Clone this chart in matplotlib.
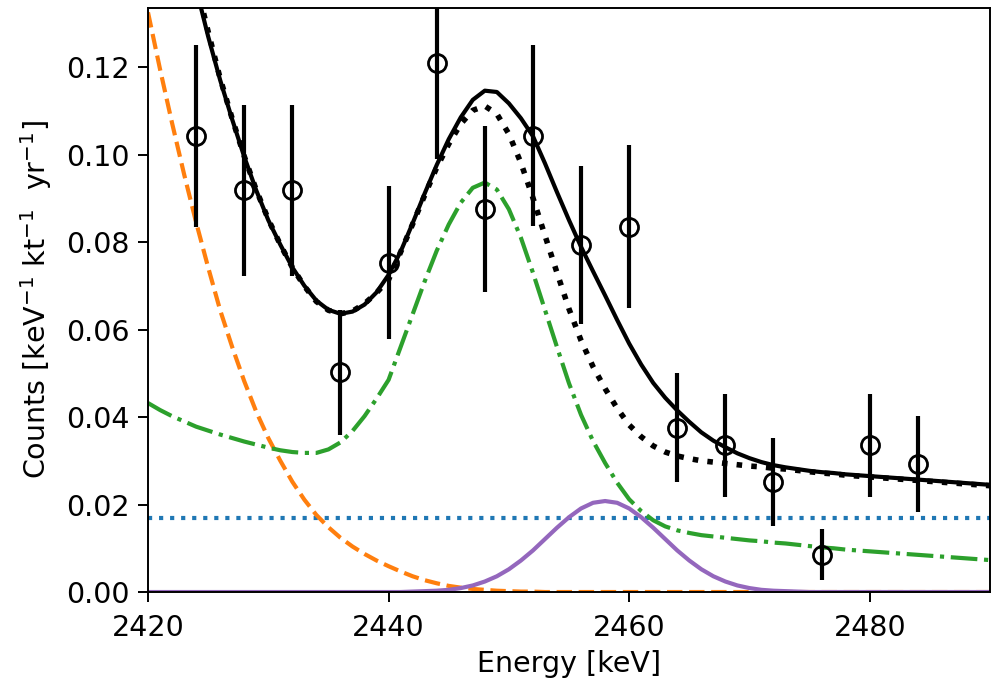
import numpy as np
import matplotlib
matplotlib.use('Agg')
import matplotlib.pyplot as plt

# measured spectrum (bin centres, rate, 1 sigma)
energy = [2424, 2428, 2432, 2436, 2440, 2444, 2448, 2452,
          2456, 2460, 2464, 2468, 2472, 2476, 2480, 2484]
counts = [0.1042, 0.0918, 0.0918, 0.0502, 0.0753, 0.1210, 0.0875, 0.1043,
          0.0793, 0.0835, 0.0376, 0.0335, 0.0252, 0.0085, 0.0335, 0.0293]
errors = [0.0208, 0.0195, 0.0195, 0.0143, 0.0175, 0.0220, 0.0190, 0.0207,
          0.0180, 0.0186, 0.0125, 0.0117, 0.0101, 0.0058, 0.0117, 0.0110]

# fit curves, 1 keV steps from 2420 to 2490
e_grid = np.arange(2420, 2491)

flat_bkg = [0.017] * 71

low_tail = [0.1325, 0.1195, 0.1072, 0.0955, 0.0845, 0.0742, 0.0644, 0.0560,
            0.0482, 0.0412, 0.0352, 0.0300, 0.0252, 0.0211, 0.0176, 0.0148,
            0.0124, 0.0104, 0.0087, 0.0072, 0.0059, 0.0047, 0.0036, 0.0027,
            0.0020, 0.0014, 0.0010, 0.0007, 0.0005, 0.0003, 0.0002, 0.0001,
            0.0001, 0, 0, 0, 0, 0, 0, 0,
            0, 0, 0, 0, 0, 0, 0, 0,
            0, 0, 0, 0, 0, 0, 0, 0,
            0, 0, 0, 0, 0, 0, 0, 0,
            0, 0, 0, 0, 0, 0, 0]

main_peak = [0.0432, 0.0416, 0.0402, 0.0390, 0.0378, 0.0369, 0.0360, 0.0352,
             0.0344, 0.0337, 0.0330, 0.0324, 0.0320, 0.0318, 0.0318, 0.0326,
             0.0342, 0.0368, 0.0402, 0.0442, 0.0485, 0.0560, 0.0635, 0.0710,
             0.0780, 0.0840, 0.0890, 0.0924, 0.0936, 0.0920, 0.0875, 0.0810,
             0.0730, 0.0645, 0.0560, 0.0477, 0.0405, 0.0345, 0.0295, 0.0250,
             0.0212, 0.0185, 0.0164, 0.0150, 0.0141, 0.0135, 0.0130, 0.0127,
             0.0124, 0.0121, 0.0118, 0.0116, 0.0113, 0.0111, 0.0108, 0.0105,
             0.0102, 0.0100, 0.0097, 0.0095, 0.0093, 0.0091, 0.0089, 0.0087,
             0.0085, 0.0083, 0.0081, 0.0079, 0.0077, 0.0075, 0.0073]

signal = [0, 0, 0, 0, 0, 0, 0, 0,
          0, 0, 0, 0, 0, 0, 0, 0,
          0, 0, 0, 0, 0, 0, 0.0001, 0.0002,
          0.0003, 0.0005, 0.0009, 0.0015, 0.0024, 0.0036, 0.0052, 0.0072,
          0.0095, 0.0121, 0.0147, 0.0171, 0.0191, 0.0204, 0.0208, 0.0204,
          0.0191, 0.0171, 0.0147, 0.0121, 0.0095, 0.0072, 0.0052, 0.0036,
          0.0024, 0.0015, 0.0009, 0.0005, 0.0003, 0.0002, 0.0001, 0,
          0, 0, 0, 0, 0, 0, 0, 0,
          0, 0, 0, 0, 0, 0, 0]

bkg_total = [0.1927, 0.1781, 0.1644, 0.1515, 0.1393, 0.1281, 0.1174, 0.1082,
             0.0996, 0.0919, 0.0852, 0.0794, 0.0742, 0.0699, 0.0664, 0.0644,
             0.0636, 0.0642, 0.0659, 0.0684, 0.0714, 0.0777, 0.0841, 0.0907,
             0.0970, 0.1024, 0.1070, 0.1101, 0.1111, 0.1093, 0.1047, 0.0981,
             0.0901, 0.0815, 0.0730, 0.0647, 0.0575, 0.0515, 0.0465, 0.0420,
             0.0382, 0.0355, 0.0334, 0.0320, 0.0311, 0.0305, 0.0300, 0.0297,
             0.0294, 0.0291, 0.0288, 0.0286, 0.0283, 0.0281, 0.0278, 0.0275,
             0.0272, 0.0270, 0.0267, 0.0265, 0.0263, 0.0261, 0.0259, 0.0257,
             0.0255, 0.0253, 0.0251, 0.0249, 0.0247, 0.0245, 0.0243]

total = [0.1927, 0.1781, 0.1644, 0.1515, 0.1380, 0.1270, 0.1170, 0.1080,
         0.0995, 0.0918, 0.0850, 0.0794, 0.0742, 0.0700, 0.0666, 0.0645,
         0.0636, 0.0641, 0.0657, 0.0685, 0.0725, 0.0778, 0.0843, 0.0911,
         0.0976, 0.1035, 0.1085, 0.1125, 0.1146, 0.1143, 0.1117, 0.1083,
         0.1042, 0.0980, 0.0914, 0.0850, 0.0789, 0.0733, 0.0678, 0.0622,
         0.0568, 0.0520, 0.0478, 0.0444, 0.0415, 0.0389, 0.0365, 0.0346,
         0.0331, 0.0317, 0.0306, 0.0297, 0.0290, 0.0285, 0.0281, 0.0277,
         0.0274, 0.0272, 0.0269, 0.0267, 0.0265, 0.0263, 0.0261, 0.0259,
         0.0257, 0.0255, 0.0253, 0.0251, 0.0249, 0.0247, 0.0245]

fig, ax = plt.subplots(figsize=(9.92, 6.83), dpi=100)
fig.subplots_adjust(left=0.1492, right=0.998, bottom=0.1332, top=0.9883)

ax.plot(e_grid, flat_bkg, ':', color='tab:blue', lw=3)
ax.plot(e_grid, low_tail, '--', color='tab:orange', lw=3)
ax.plot(e_grid, main_peak, '-.', color='tab:green', lw=3)
ax.plot(e_grid, signal, '-', color='tab:purple', lw=3)
ax.plot(e_grid, bkg_total, ':', color='black', lw=4)
ax.plot(e_grid, total, '-', color='black', lw=3)

ax.errorbar(energy, counts, yerr=errors, fmt='o', color='black',
            mfc='none', ms=13, mew=2, elinewidth=3, capsize=0, zorder=5)

ax.set_xlim(2420, 2490)
ax.set_ylim(0, 0.1335)
ax.set_xticks([2420, 2440, 2460, 2480])
ax.set_yticks(np.arange(0, 0.121, 0.02))
ax.yaxis.set_major_formatter(matplotlib.ticker.FormatStrFormatter('%.2f'))
ax.tick_params(labelsize=20.5, length=7, width=1.4, pad=6)
ax.tick_params(axis='x', pad=8.5)
for s in ax.spines.values():
    s.set_linewidth(1.4)

ax.set_xlabel('Energy [keV]', fontsize=20.5, labelpad=6)
ax.set_ylabel('Counts [keV$^{-1}$ kt$^{-1}$  yr$^{-1}$]', fontsize=20.5,
              labelpad=9)

fig.savefig('out.png', dpi=100)
